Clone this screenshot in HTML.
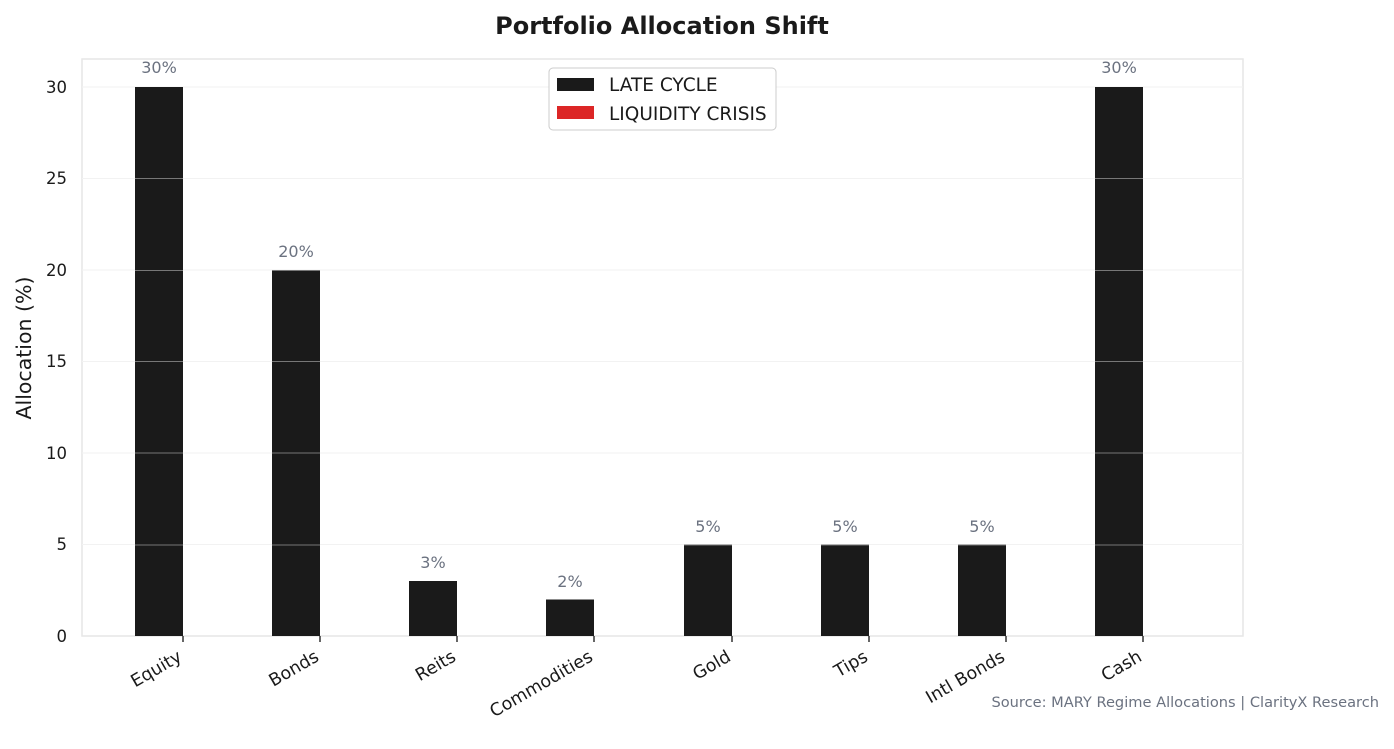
<!DOCTYPE html>
<html><head><meta charset="utf-8"><style>
body{margin:0;background:#fff;width:1394px;height:744px;overflow:hidden}
svg text{font-family:"DejaVu Sans","Liberation Sans",sans-serif}
</style></head><body>
<svg width="1394" height="744" xmlns="http://www.w3.org/2000/svg">
<defs><clipPath id="bars">
<rect x="135" y="87" width="48" height="549"/>
<rect x="272" y="270" width="48" height="366"/>
<rect x="409" y="581" width="48" height="55"/>
<rect x="546" y="599.5" width="48" height="36.5"/>
<rect x="684" y="544.5" width="48" height="91.5"/>
<rect x="821" y="544.5" width="48" height="91.5"/>
<rect x="958" y="544.5" width="48" height="91.5"/>
<rect x="1095" y="87" width="48" height="549"/>
</clipPath></defs>
<rect width="1394" height="744" fill="#fff"/>
<text x="662" y="34" text-anchor="middle" font-size="24" font-weight="bold" fill="#1a1a1a">Portfolio Allocation Shift</text>
<rect x="82" y="59" width="1161" height="577" fill="#fff" stroke="#e6e6e6" stroke-width="1.5"/>
<g stroke="#f2f2f2" stroke-width="1">
<line x1="82" x2="1243" y1="87" y2="87"/><line x1="82" x2="1243" y1="178.5" y2="178.5"/>
<line x1="82" x2="1243" y1="270" y2="270"/><line x1="82" x2="1243" y1="361.5" y2="361.5"/>
<line x1="82" x2="1243" y1="453" y2="453"/><line x1="82" x2="1243" y1="544.5" y2="544.5"/>
</g>
<g fill="#1a1a1a">
<rect x="135" y="87" width="48" height="549"/>
<rect x="272" y="270" width="48" height="366"/>
<rect x="409" y="581" width="48" height="55"/>
<rect x="546" y="599.5" width="48" height="36.5"/>
<rect x="684" y="544.5" width="48" height="91.5"/>
<rect x="821" y="544.5" width="48" height="91.5"/>
<rect x="958" y="544.5" width="48" height="91.5"/>
<rect x="1095" y="87" width="48" height="549"/>
</g>
<g stroke="#777" stroke-width="1" clip-path="url(#bars)">
<line x1="82" x2="1243" y1="178.5" y2="178.5"/>
<line x1="82" x2="1243" y1="270.5" y2="270.5"/><line x1="82" x2="1243" y1="361.5" y2="361.5"/>
<line x1="82" x2="1243" y1="453" y2="453"/><line x1="82" x2="1243" y1="545" y2="545"/>
</g>
<g font-size="16" fill="#6b7280" text-anchor="middle">
<text x="159" y="73">30%</text><text x="296" y="257">20%</text><text x="433" y="568">3%</text>
<text x="570" y="587">2%</text><text x="708" y="532">5%</text><text x="845" y="532">5%</text>
<text x="982" y="532">5%</text><text x="1119" y="73">30%</text>
</g>
<g font-size="16.5" fill="#1a1a1a" text-anchor="end">
<text x="67" y="93">30</text><text x="67" y="184">25</text><text x="67" y="276">20</text>
<text x="67" y="367">15</text><text x="67" y="459">10</text><text x="67" y="550">5</text><text x="67" y="642">0</text>
</g>
<text transform="translate(31,348) rotate(-90)" text-anchor="middle" font-size="20.5" fill="#1a1a1a">Allocation (%)</text>
<g stroke="#333" stroke-width="1.5">
<line x1="183" x2="183" y1="636" y2="642"/><line x1="320" x2="320" y1="636" y2="642"/>
<line x1="457" x2="457" y1="636" y2="642"/><line x1="594" x2="594" y1="636" y2="642"/>
<line x1="732" x2="732" y1="636" y2="642"/><line x1="869" x2="869" y1="636" y2="642"/>
<line x1="1006" x2="1006" y1="636" y2="642"/><line x1="1143" x2="1143" y1="636" y2="642"/>
</g>
<g font-size="17.5" fill="#1a1a1a" text-anchor="end">
<text transform="translate(183,660) rotate(-30)">Equity</text>
<text transform="translate(320,660) rotate(-30)">Bonds</text>
<text transform="translate(457,660) rotate(-30)">Reits</text>
<text transform="translate(594,660) rotate(-30)">Commodities</text>
<text transform="translate(732,660) rotate(-30)">Gold</text>
<text transform="translate(869,660) rotate(-30)">Tips</text>
<text transform="translate(1006,660) rotate(-30)">Intl Bonds</text>
<text transform="translate(1143,660) rotate(-30)">Cash</text>
</g>
<rect x="549" y="68" width="227" height="62" rx="4" fill="#fff" stroke="#ccc"/>
<rect x="557" y="78" width="37" height="13" fill="#1a1a1a"/>
<rect x="557" y="106" width="37" height="13" fill="#dc2626"/>
<text x="609" y="91" font-size="18.5" fill="#1a1a1a">LATE CYCLE</text>
<text x="609" y="120" font-size="18.5" fill="#1a1a1a">LIQUIDITY CRISIS</text>
<text x="1379" y="707" text-anchor="end" font-size="14.6" fill="#6b7280">Source: MARY Regime Allocations | ClarityX Research</text>
</svg>
</body></html>
